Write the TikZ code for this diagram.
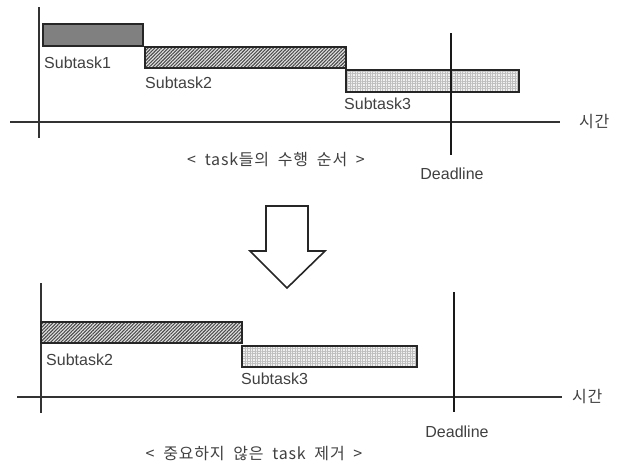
\documentclass[tikz,border=0pt]{standalone}
\usepackage{fontspec}
\setmainfont{Liberation Sans}
\newfontfamily\hangul[WordSpace = 2, LetterSpace = 5]{Noto Sans CJK KR}
\usetikzlibrary{patterns.meta}

\tikzset{
  axis/.style = {line width = 1.3pt, black!80},
  limit/.style = {line width = 2pt, black!90},
  bar/.style = {draw = black!85, line width = 1.4pt},
  bar one/.style = {bar, fill = black!50},
  bar two/.style = {bar, preaction = {fill = black!10},
    pattern = {Lines[angle = 45, distance = 2.4pt, line width = 1.1pt]},
    pattern color = black!70},
  bar three/.style = {bar, preaction = {fill = black!6},
    preaction = {pattern = {Lines[angle = 90, distance = 2.5pt, line width = 0.4pt]},
      pattern color = black!25},
    pattern = {Lines[angle = 0, distance = 2.5pt, line width = 0.4pt]},
    pattern color = black!25},
  lbl/.style = {font = \fontsize{16}{16}\selectfont, text = black!75,
    inner sep = 0pt, anchor = west},
  captxt/.style = {font = \hangul\fontsize{16}{16}\selectfont, text = black!75,
    inner sep = 0pt}
}

\begin{document}
\begin{tikzpicture}[x = 1pt, y = -1pt]
  \useasboundingbox (0, 0) rectangle (617, 471);

  % order of the tasks
  \coordinate (origin) at (39, 122);
  \coordinate (yend) at (39, 7);
  \coordinate (xend) at (560, 122);

  \draw[axis] (yend) -- (39, 138);
  \draw[axis] (10, 122) -- (xend);
  \node[captxt, anchor = west] (time) at (579, 122) {시간};

  \draw[bar one] (43, 24) rectangle (143, 46);
  \draw[bar two] (145, 47) rectangle (346, 68);
  \draw[bar three] (346, 70) rectangle (519, 92);

  \node[lbl] (sub1) at (44, 63) {Subtask1};
  \node[lbl] (sub2) at (145, 83) {Subtask2};
  \node[lbl] (sub3) at (344, 104) {Subtask3};

  \coordinate (dtop) at (451, 33);
  \coordinate (dbot) at (451, 155);
  \draw[limit] (dtop) -- (dbot);
  \node[lbl, anchor = center] (dead) at (452, 174) {Deadline};
  \node[captxt] (order) at (276, 160) {< task들의 수행 순서 >};

  \draw[line width = 1.6pt, black!85, line join = miter] (266, 206) -- (308, 206)
  -- (308, 251) -- (325, 251) -- (287, 288) -- (250, 251) -- (266, 251) -- cycle;

  % after removing a task
  \coordinate (origin2) at (41, 397);
  \draw[axis] (41, 283) -- (41, 413);
  \draw[axis] (17, 397) -- (562, 397);
  \node[captxt, anchor = west] (time2) at (572, 397) {시간};

  \draw[bar two] (41, 322) rectangle (242, 343);
  \draw[bar three] (242, 346) rectangle (417, 367);

  \node[lbl] (sub2b) at (46, 360) {Subtask2};
  \node[lbl] (sub3b) at (241, 379) {Subtask3};

  \draw[limit] (454, 292) -- (454, 412);
  \node[lbl, anchor = center] (dead2) at (457, 432) {Deadline};
  \node[captxt] (removed) at (254, 453) {< 중요하지 않은 task 제거 >};
\end{tikzpicture}
\end{document}
